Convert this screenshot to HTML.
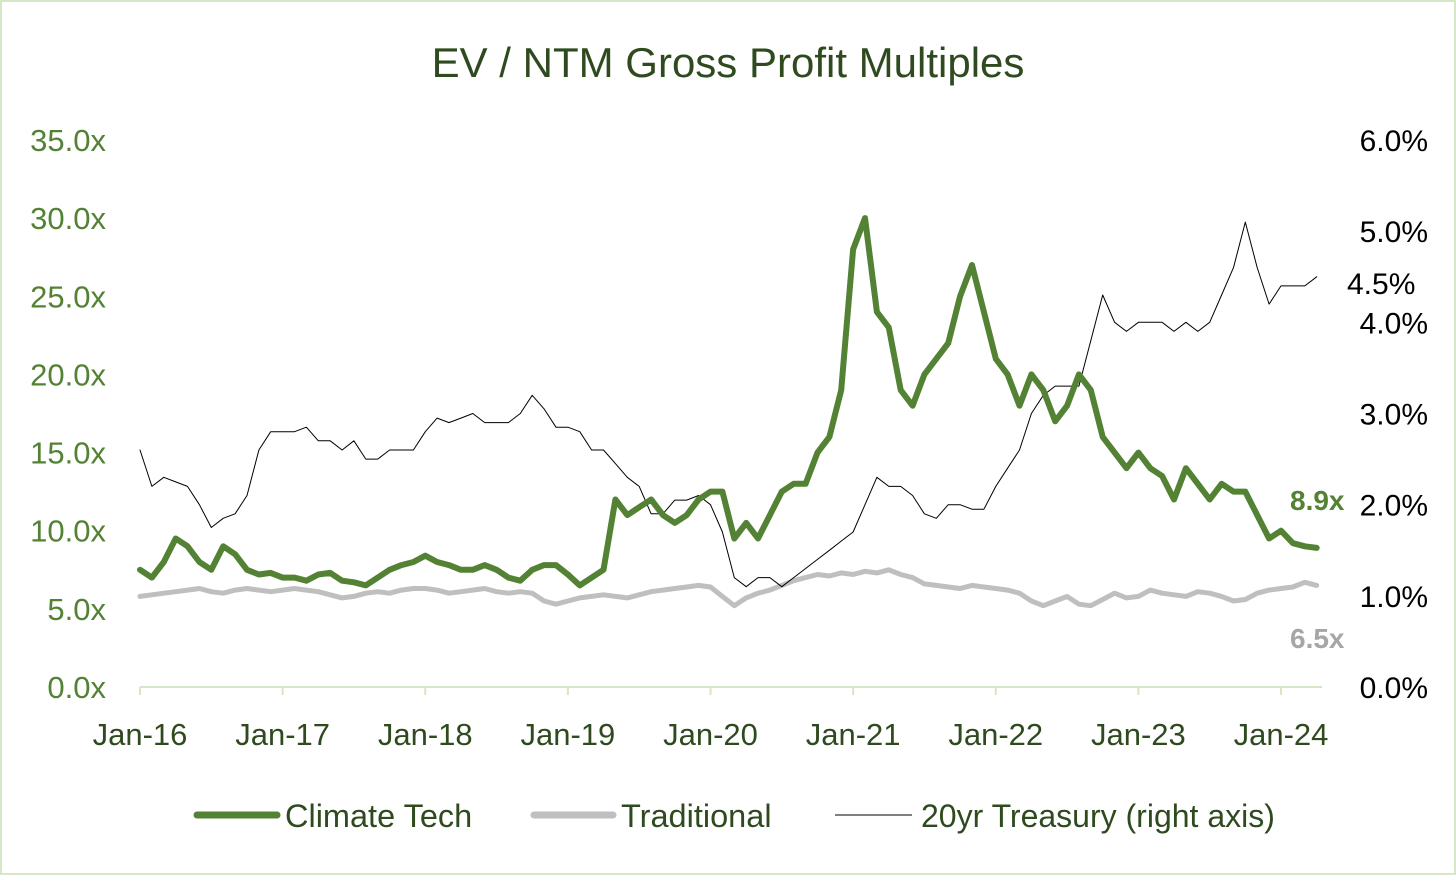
<!DOCTYPE html>
<html><head><meta charset="utf-8"><style>
body{margin:0;background:#fff}
svg{display:block;font-family:"Liberation Sans",sans-serif}
</style></head><body>
<svg width="1456" height="875" viewBox="0 0 1456 875" id="c">
<rect x="1" y="1" width="1454" height="873" fill="#fff" stroke="#d5e6c9" stroke-width="2"/>
<text x="728" y="77" text-anchor="middle" font-size="42" fill="#2e4a1e">EV / NTM Gross Profit Multiples</text>
<g id="axes"></g>
<g id="series"></g>
<text x="1290" y="510" font-size="28" font-weight="bold" fill="#548235">8.9x</text>
<text x="1290" y="648" font-size="28" font-weight="bold" fill="#a6a6a6">6.5x</text>
<text x="1347" y="294" font-size="30" fill="#000">4.5%</text>
<g>
<line x1="197" y1="815" x2="277" y2="815" stroke="#548235" stroke-width="7" stroke-linecap="round"/>
<text x="285" y="827" font-size="32.5" fill="#2e4a1e">Climate Tech</text>
<line x1="534" y1="815" x2="613" y2="815" stroke="#bfbfbf" stroke-width="7" stroke-linecap="round"/>
<text x="621" y="827" font-size="32.5" fill="#2e4a1e">Traditional</text>
<line x1="835" y1="815" x2="912" y2="815" stroke="#000" stroke-width="1"/>
<text x="921" y="827" font-size="32" fill="#2e4a1e">20yr Treasury (right axis)</text>
</g>
</svg>
<script>
const xLabels=["Jan-16","Jan-17","Jan-18","Jan-19","Jan-20","Jan-21","Jan-22","Jan-23","Jan-24"];
const leftTicks=[0,5,10,15,20,25,30,35];
const rightTicks=[0,1,2,3,4,5,6];
const climateTech=[7.5,7,8,9.5,9,8,7.5,9,8.5,7.5,7.2,7.3,
7,7,6.8,7.2,7.3,6.8,6.7,6.5,7,7.5,7.8,8,
8.4,8,7.8,7.5,7.5,7.8,7.5,7,6.8,7.5,7.8,7.8,
7.2,6.5,7,7.5,12,11,11.5,12,11,10.5,11,12,
12.5,12.5,9.5,10.5,9.5,11,12.5,13,13,15,16,19,
28,30,24,23,19,18,20,21,22,25,27,24,
21,20,18,20,19,17,18,20,19,16,15,14,
15,14,13.5,12,14,13,12,13,12.5,12.5,11,9.5,
10,9.2,9,8.9];
const traditional=[5.8,5.9,6,6.1,6.2,6.3,6.1,6,6.2,6.3,6.2,6.1,
6.2,6.3,6.2,6.1,5.9,5.7,5.8,6,6.1,6,6.2,6.3,
6.3,6.2,6,6.1,6.2,6.3,6.1,6,6.1,6,5.5,5.3,
5.5,5.7,5.8,5.9,5.8,5.7,5.9,6.1,6.2,6.3,6.4,6.5,
6.4,5.8,5.2,5.7,6,6.2,6.5,6.8,7,7.2,7.1,7.3,
7.2,7.4,7.3,7.5,7.2,7,6.6,6.5,6.4,6.3,6.5,6.4,
6.3,6.2,6,5.5,5.2,5.5,5.8,5.3,5.2,5.6,6,5.7,
5.8,6.2,6,5.9,5.8,6.1,6,5.8,5.5,5.6,6,6.2,
6.3,6.4,6.7,6.5];
const treasury=[2.6,2.2,2.3,2.25,2.2,2,1.75,1.85,1.9,2.1,2.6,2.8,
2.8,2.8,2.85,2.7,2.7,2.6,2.7,2.5,2.5,2.6,2.6,2.6,
2.8,2.95,2.9,2.95,3,2.9,2.9,2.9,3,3.2,3.05,2.85,
2.85,2.8,2.6,2.6,2.45,2.3,2.2,1.9,1.9,2.05,2.05,2.1,
2,1.7,1.2,1.1,1.2,1.2,1.1,1.2,1.3,1.4,1.5,1.6,
1.7,2,2.3,2.2,2.2,2.1,1.9,1.85,2,2,1.95,1.95,
2.2,2.4,2.6,3,3.2,3.3,3.3,3.3,3.8,4.3,4,3.9,
4,4,4,3.9,4,3.9,4,4.3,4.6,5.1,4.6,4.2,
4.4,4.4,4.4,4.5];
const NS="http://www.w3.org/2000/svg";
const X0=140,PXM=1141/96,BASE=687;
const xM=i=>X0+i*PXM;
const yL=v=>BASE-v*(547/35);
const yR=v=>BASE-v*(547/6);
function mk(t,a,p){const e=document.createElementNS(NS,t);for(const k in a)e.setAttribute(k,a[k]);p.appendChild(e);return e;}
const ax=document.getElementById('axes');
const base=mk('line',{x1:X0,y1:BASE,x2:1322,y2:BASE,stroke:'#d5e6c9','stroke-width':2},ax);


xLabels.forEach((l,i)=>{
 const x=xM(i*12);
 const t=mk('line',{x1:x,y1:BASE,x2:x,y2:BASE+8,stroke:'#d5e6c9','stroke-width':2},ax);
 
 
 const tx=mk('text',{x:x,y:745,'text-anchor':'middle','font-size':31,fill:'#2e4a1e'},ax);
 tx.textContent=l;
 
 
});
leftTicks.forEach(v=>{
 const tx=mk('text',{x:106,y:yL(v)+11,'text-anchor':'end','font-size':31,fill:'#548235'},ax);
 tx.textContent=v.toFixed(1)+'x';
 
 
});
rightTicks.forEach(v=>{
 const tx=mk('text',{x:1428,y:yR(v)+11,'text-anchor':'end','font-size':30,fill:'#000'},ax);
 tx.textContent=v.toFixed(1)+'%';
 
 
});
const sg=document.getElementById('series');
function line(arr,yf,col,w,name){
 const d=arr.map((v,i)=>(i?'L':'M')+xM(i).toFixed(1)+','+yf(v).toFixed(1)).join('');
 const p=mk('path',{d:d,fill:'none',stroke:col,'stroke-width':w,'stroke-linejoin':'round','stroke-linecap':'round'},sg);
 
 
}
line(traditional,yL,'#bfbfbf',5,'traditional-line');
line(treasury,yR,'#000',1,'treasury-line');
line(climateTech,yL,'#548235',6,'climate-tech-line');
</script>
</body></html>
